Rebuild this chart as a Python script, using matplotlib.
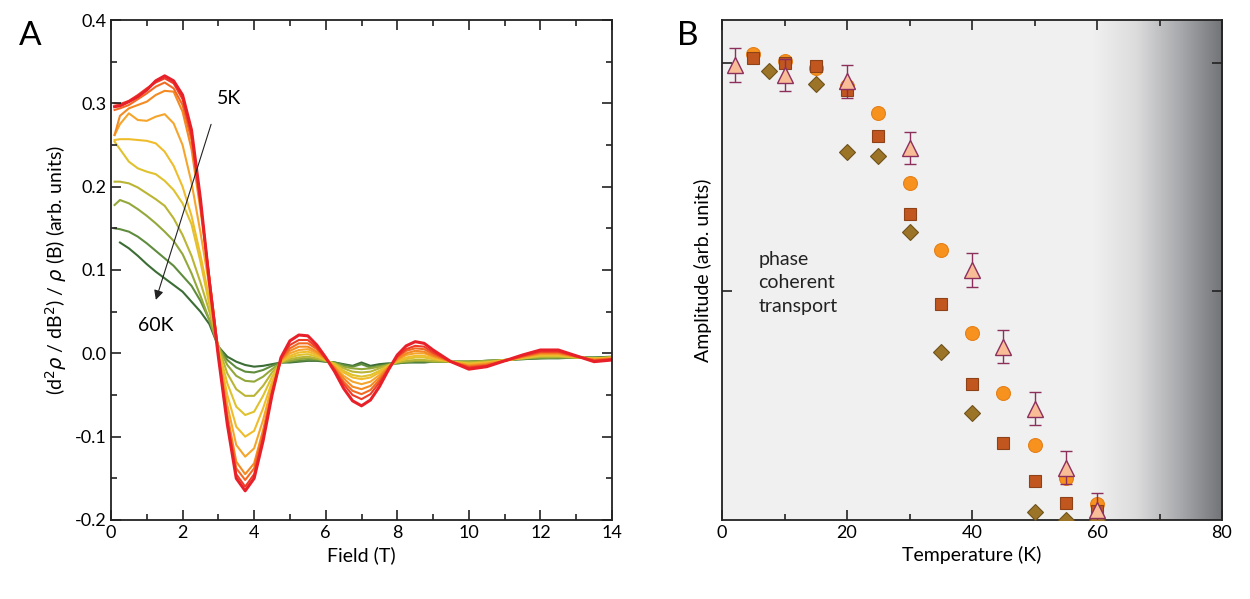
import numpy as np
import matplotlib
matplotlib.use("Agg")
import matplotlib.pyplot as plt
from matplotlib.colors import LinearSegmentedColormap
from matplotlib.ticker import MultipleLocator

plt.rcParams['font.family'] = ['Lato', 'DejaVu Sans']
plt.rcParams['axes.unicode_minus'] = False
plt.rcParams['mathtext.fontset'] = 'dejavusans'

# ---- panel A: second derivative curves, 5K (red) -> 60K (green)
field = [0.1, 0.25, 0.5, 0.75, 1.0, 1.25, 1.5, 1.75, 2.0, 2.25, 2.5, 2.75,
         3.0, 3.25, 3.5, 3.75, 4.0, 4.25, 4.5, 4.75,
         5.0, 5.25, 5.5, 5.75, 6.0,
         6.25, 6.5, 6.75, 7.0, 7.25, 7.5, 7.75,
         8.0, 8.25, 8.5, 8.75, 9.0,
         9.5, 10.0, 10.5, 11.0, 11.5, 12.0, 12.5, 13.0, 13.5, 14.0]

temps = [5, 10, 15, 20, 25, 30, 35, 40, 45, 50, 60]

d2r_5K = [0.296, 0.297, 0.302, 0.308, 0.316, 0.327, 0.333, 0.327, 0.310, 0.268, 0.185, 0.085,
          -0.004, -0.085, -0.150, -0.165, -0.150, -0.105, -0.050, -0.005,
          0.015, 0.022, 0.021, 0.010, -0.005,
          -0.022, -0.042, -0.057, -0.063, -0.056, -0.040, -0.020,
          -0.002, 0.009, 0.014, 0.012, 0.004,
          -0.010, -0.019, -0.016, -0.009, -0.002, 0.004, 0.004, -0.003, -0.010, -0.008]
d2r_10K = [0.300, 0.299, 0.303, 0.310, 0.318, 0.325, 0.330, 0.324, 0.305, 0.262, 0.182, 0.088,
           -0.002, -0.082, -0.145, -0.160, -0.145, -0.102, -0.048, -0.006,
           0.010, 0.016, 0.016, 0.007, -0.006,
           -0.020, -0.037, -0.050, -0.055, -0.049, -0.035, -0.019,
           -0.004, 0.005, 0.009, 0.008, 0.001,
           -0.010, -0.017, -0.015, -0.009, -0.003, 0.002, 0.002, -0.003, -0.009, -0.007]
d2r_15K = [0.292, 0.294, 0.298, 0.305, 0.312, 0.320, 0.325, 0.318, 0.298, 0.256, 0.178, 0.090,
           0.000, -0.078, -0.138, -0.152, -0.138, -0.097, -0.046, -0.007,
           0.006, 0.012, 0.012, 0.005, -0.006,
           -0.019, -0.034, -0.045, -0.049, -0.044, -0.032, -0.018,
           -0.005, 0.003, 0.006, 0.005, -0.001,
           -0.010, -0.016, -0.014, -0.009, -0.004, 0.001, 0.001, -0.004, -0.008, -0.007]
d2r_20K = [0.262, 0.285, 0.294, 0.298, 0.302, 0.310, 0.315, 0.314, 0.290, 0.245, 0.172, 0.090,
           0.002, -0.073, -0.130, -0.145, -0.132, -0.092, -0.044, -0.008,
           0.003, 0.008, 0.008, 0.002, -0.007,
           -0.017, -0.030, -0.040, -0.043, -0.039, -0.029, -0.017,
           -0.007, 0.000, 0.003, 0.002, -0.003,
           -0.010, -0.015, -0.013, -0.009, -0.004, 0.000, 0.000, -0.004, -0.008, -0.006]
d2r_25K = [0.262, 0.275, 0.288, 0.280, 0.279, 0.284, 0.287, 0.276, 0.250, 0.205, 0.145, 0.080,
           0.004, -0.062, -0.110, -0.124, -0.114, -0.080, -0.039, -0.009,
           0.000, 0.004, 0.005, 0.000, -0.007,
           -0.016, -0.027, -0.034, -0.037, -0.034, -0.026, -0.016,
           -0.008, -0.002, 0.000, 0.000, -0.004,
           -0.010, -0.014, -0.012, -0.009, -0.005, -0.001, -0.001, -0.004, -0.007, -0.006]
d2r_30K = [0.256, 0.257, 0.257, 0.256, 0.255, 0.252, 0.242, 0.225, 0.200, 0.165, 0.118, 0.065,
           0.005, -0.050, -0.088, -0.100, -0.093, -0.066, -0.034, -0.010,
           -0.003, 0.001, 0.002, -0.002, -0.008,
           -0.014, -0.023, -0.029, -0.031, -0.029, -0.023, -0.015,
           -0.009, -0.005, -0.003, -0.003, -0.006,
           -0.010, -0.013, -0.011, -0.009, -0.005, -0.002, -0.002, -0.004, -0.007, -0.005]
d2r_35K = [0.254, 0.245, 0.230, 0.222, 0.218, 0.215, 0.207, 0.196, 0.180, 0.155, 0.110, 0.058,
           0.006, -0.036, -0.064, -0.074, -0.070, -0.051, -0.028, -0.010,
           -0.005, -0.002, -0.001, -0.004, -0.008,
           -0.013, -0.021, -0.026, -0.028, -0.026, -0.021, -0.015,
           -0.010, -0.007, -0.005, -0.005, -0.007,
           -0.010, -0.012, -0.011, -0.008, -0.006, -0.003, -0.003, -0.005, -0.006, -0.005]
d2r_40K = [0.206, 0.206, 0.204, 0.199, 0.192, 0.185, 0.177, 0.162, 0.142, 0.117, 0.085, 0.050,
           0.008, -0.024, -0.043, -0.051, -0.051, -0.039, -0.023, -0.011,
           -0.007, -0.005, -0.004, -0.006, -0.009,
           -0.012, -0.018, -0.022, -0.023, -0.022, -0.018, -0.014,
           -0.011, -0.009, -0.008, -0.008, -0.009,
           -0.010, -0.011, -0.010, -0.008, -0.006, -0.004, -0.004, -0.005, -0.006, -0.005]
d2r_45K = [0.178, 0.184, 0.180, 0.173, 0.165, 0.156, 0.146, 0.135, 0.119, 0.096, 0.069, 0.040,
           0.009, -0.014, -0.027, -0.033, -0.034, -0.028, -0.019, -0.011,
           -0.009, -0.007, -0.006, -0.007, -0.009,
           -0.012, -0.016, -0.018, -0.019, -0.018, -0.016, -0.014,
           -0.011, -0.010, -0.009, -0.009, -0.010,
           -0.010, -0.010, -0.009, -0.008, -0.006, -0.005, -0.005, -0.005, -0.006, -0.005]
d2r_50K = [0.150, 0.149, 0.146, 0.140, 0.132, 0.123, 0.114, 0.105, 0.093, 0.081, 0.063, 0.040,
           0.008, -0.008, -0.017, -0.022, -0.023, -0.020, -0.015, -0.011,
           -0.010, -0.009, -0.008, -0.008, -0.010,
           -0.011, -0.014, -0.016, -0.013, -0.017, -0.015, -0.013,
           -0.012, -0.011, -0.010, -0.010, -0.010,
           -0.010, -0.010, -0.009, -0.008, -0.007, -0.006, -0.005, -0.005, -0.005, -0.005]
d2r_60K = [np.nan, 0.133, 0.126, 0.117, 0.107, 0.098, 0.090, 0.082, 0.074, 0.062, 0.050, 0.035,
           0.008, -0.004, -0.010, -0.014, -0.016, -0.015, -0.013, -0.011,
           -0.011, -0.010, -0.009, -0.009, -0.010,
           -0.011, -0.013, -0.015, -0.011, -0.015, -0.013, -0.012,
           -0.012, -0.011, -0.011, -0.011, -0.010,
           -0.010, -0.010, -0.009, -0.008, -0.007, -0.006, -0.006, -0.005, -0.005, -0.004]

curves = [d2r_5K, d2r_10K, d2r_15K, d2r_20K, d2r_25K, d2r_30K,
          d2r_35K, d2r_40K, d2r_45K, d2r_50K, d2r_60K]
colors = ['#e8202a', '#ee3d26', '#f26a22', '#f48a22', '#f5a52c', '#efbd2c',
          '#dfc22e', '#bab534', '#93a83b', '#5f8c3d', '#3b6d35']

# ---- panel B: amplitude vs temperature
T_circ = [5, 10, 15, 20, 25, 30, 35, 40, 45, 50, 55, 60]
A_circ = [1.02, 1.005, 0.99, 0.95, 0.89, 0.737, 0.59, 0.41, 0.278, 0.164, 0.092, 0.035]

T_sq = [5, 10, 15, 20, 25, 30, 35, 40, 45, 50, 55, 60]
A_sq = [1.01, 1.0, 0.993, 0.94, 0.84, 0.67, 0.472, 0.297, 0.168, 0.085, 0.037, 0.02]

T_dia = [7.5, 15, 20, 25, 30, 35, 40, 50, 55, 60]
A_dia = [0.982, 0.954, 0.805, 0.797, 0.63, 0.368, 0.234, 0.017, 0.0, 0.0]

T_tri = [2, 10, 20, 30, 40, 45, 50, 55, 60]
A_tri = [0.996, 0.974, 0.96, 0.814, 0.547, 0.379, 0.243, 0.114, 0.022]
A_tri_err = [0.037, 0.035, 0.036, 0.036, 0.037, 0.036, 0.036, 0.036, 0.037]

fig = plt.figure(figsize=(12.5, 5.99), dpi=100)
axA = fig.add_axes([0.0888, 0.1319, 0.4008, 0.8347])
axB = fig.add_axes([0.5776, 0.1319, 0.4000, 0.8347])

for y, c in reversed(list(zip(curves, colors))):
    lw = 2.2 if c == colors[0] else 1.5
    axA.plot(field, y, color=c, lw=lw)

axA.set_xlim(0, 14)
axA.set_ylim(-0.2, 0.4)
axA.xaxis.set_major_locator(MultipleLocator(2))
axA.xaxis.set_minor_locator(MultipleLocator(1))
axA.yaxis.set_major_locator(MultipleLocator(0.1))
axA.yaxis.set_minor_locator(MultipleLocator(0.05))
axA.set_yticklabels([f"{v:.1f}" for v in axA.get_yticks()])
axA.set_xlabel('Field (T)', fontsize=14)
axA.set_ylabel(r'(d$^2\rho$ / dB$^2$) / $\rho$ (B) (arb. units)', fontsize=14)

axA.annotate('', xy=(1.23, 0.061), xytext=(2.82, 0.278),
             arrowprops=dict(arrowstyle='-|>', color='#222222', lw=0.8,
                             mutation_scale=14))
axA.text(2.95, 0.306, '5K', fontsize=14, va='center', ha='left')
axA.text(0.75, 0.033, '60K', fontsize=14, va='center', ha='left')

# panel B background: light grey with darkening gradient beyond 60 K
axB.set_facecolor('#f0f0f0')
ymax = 1.094
grad = np.linspace(0, 1, 256).reshape(1, -1)
cmap = LinearSegmentedColormap.from_list('shade', ['#f0f0f0', '#dcdcdd', '#a9aaad', '#727377'],)
axB.imshow(grad, extent=[59.3, 80, 0, ymax], aspect='auto', cmap=cmap,
           origin='lower', zorder=0)

axB.plot(T_circ, A_circ, 'o', ms=10, mfc='#f7921e', mec='#e5811a', mew=0.8, zorder=3)
axB.plot(T_sq, A_sq, 's', ms=9, mfc='#c1561f', mec='#8f4218', mew=0.8, zorder=4)
axB.plot(T_dia, A_dia, 'D', ms=8.5, mfc='#9b7428', mec='#6e521c', mew=0.8, zorder=5)
axB.errorbar(T_tri, A_tri, yerr=A_tri_err, fmt='^', ms=11, mfc='#f8bc97',
             mec='#8c2f5d', mew=1.0, ecolor='#8c2f5d', elinewidth=1.0,
             capsize=4, capthick=1.0, zorder=6)

axB.set_xlim(0, 80)
axB.set_ylim(0, ymax)
axB.xaxis.set_major_locator(MultipleLocator(20))
axB.xaxis.set_minor_locator(MultipleLocator(10))
axB.set_yticks([0.5, 1.0])
axB.set_yticklabels([])
axB.set_xlabel('Temperature (K)', fontsize=14)
axB.set_ylabel('Amplitude (arb. units)', fontsize=14)
axB.text(5.8, 0.519, 'phase\ncoherent\ntransport', fontsize=14,
         ha='left', va='center', linespacing=1.45, color='#222222')

for ax in (axA, axB):
    for s in ax.spines.values():
        s.set_linewidth(1.3)
        s.set_color('#222222')
    ax.tick_params(which='both', direction='in', top=True, right=True,
                   labelsize=13, width=1.2, color='#222222')
    ax.tick_params(which='major', length=7)
    ax.tick_params(which='minor', length=4)
    ax.set_axisbelow(False)

fig.text(0.024, 0.94, 'A', fontsize=24, ha='center', va='center')
fig.text(0.550, 0.94, 'B', fontsize=24, ha='center', va='center')

fig.savefig('out.png', dpi=100)
